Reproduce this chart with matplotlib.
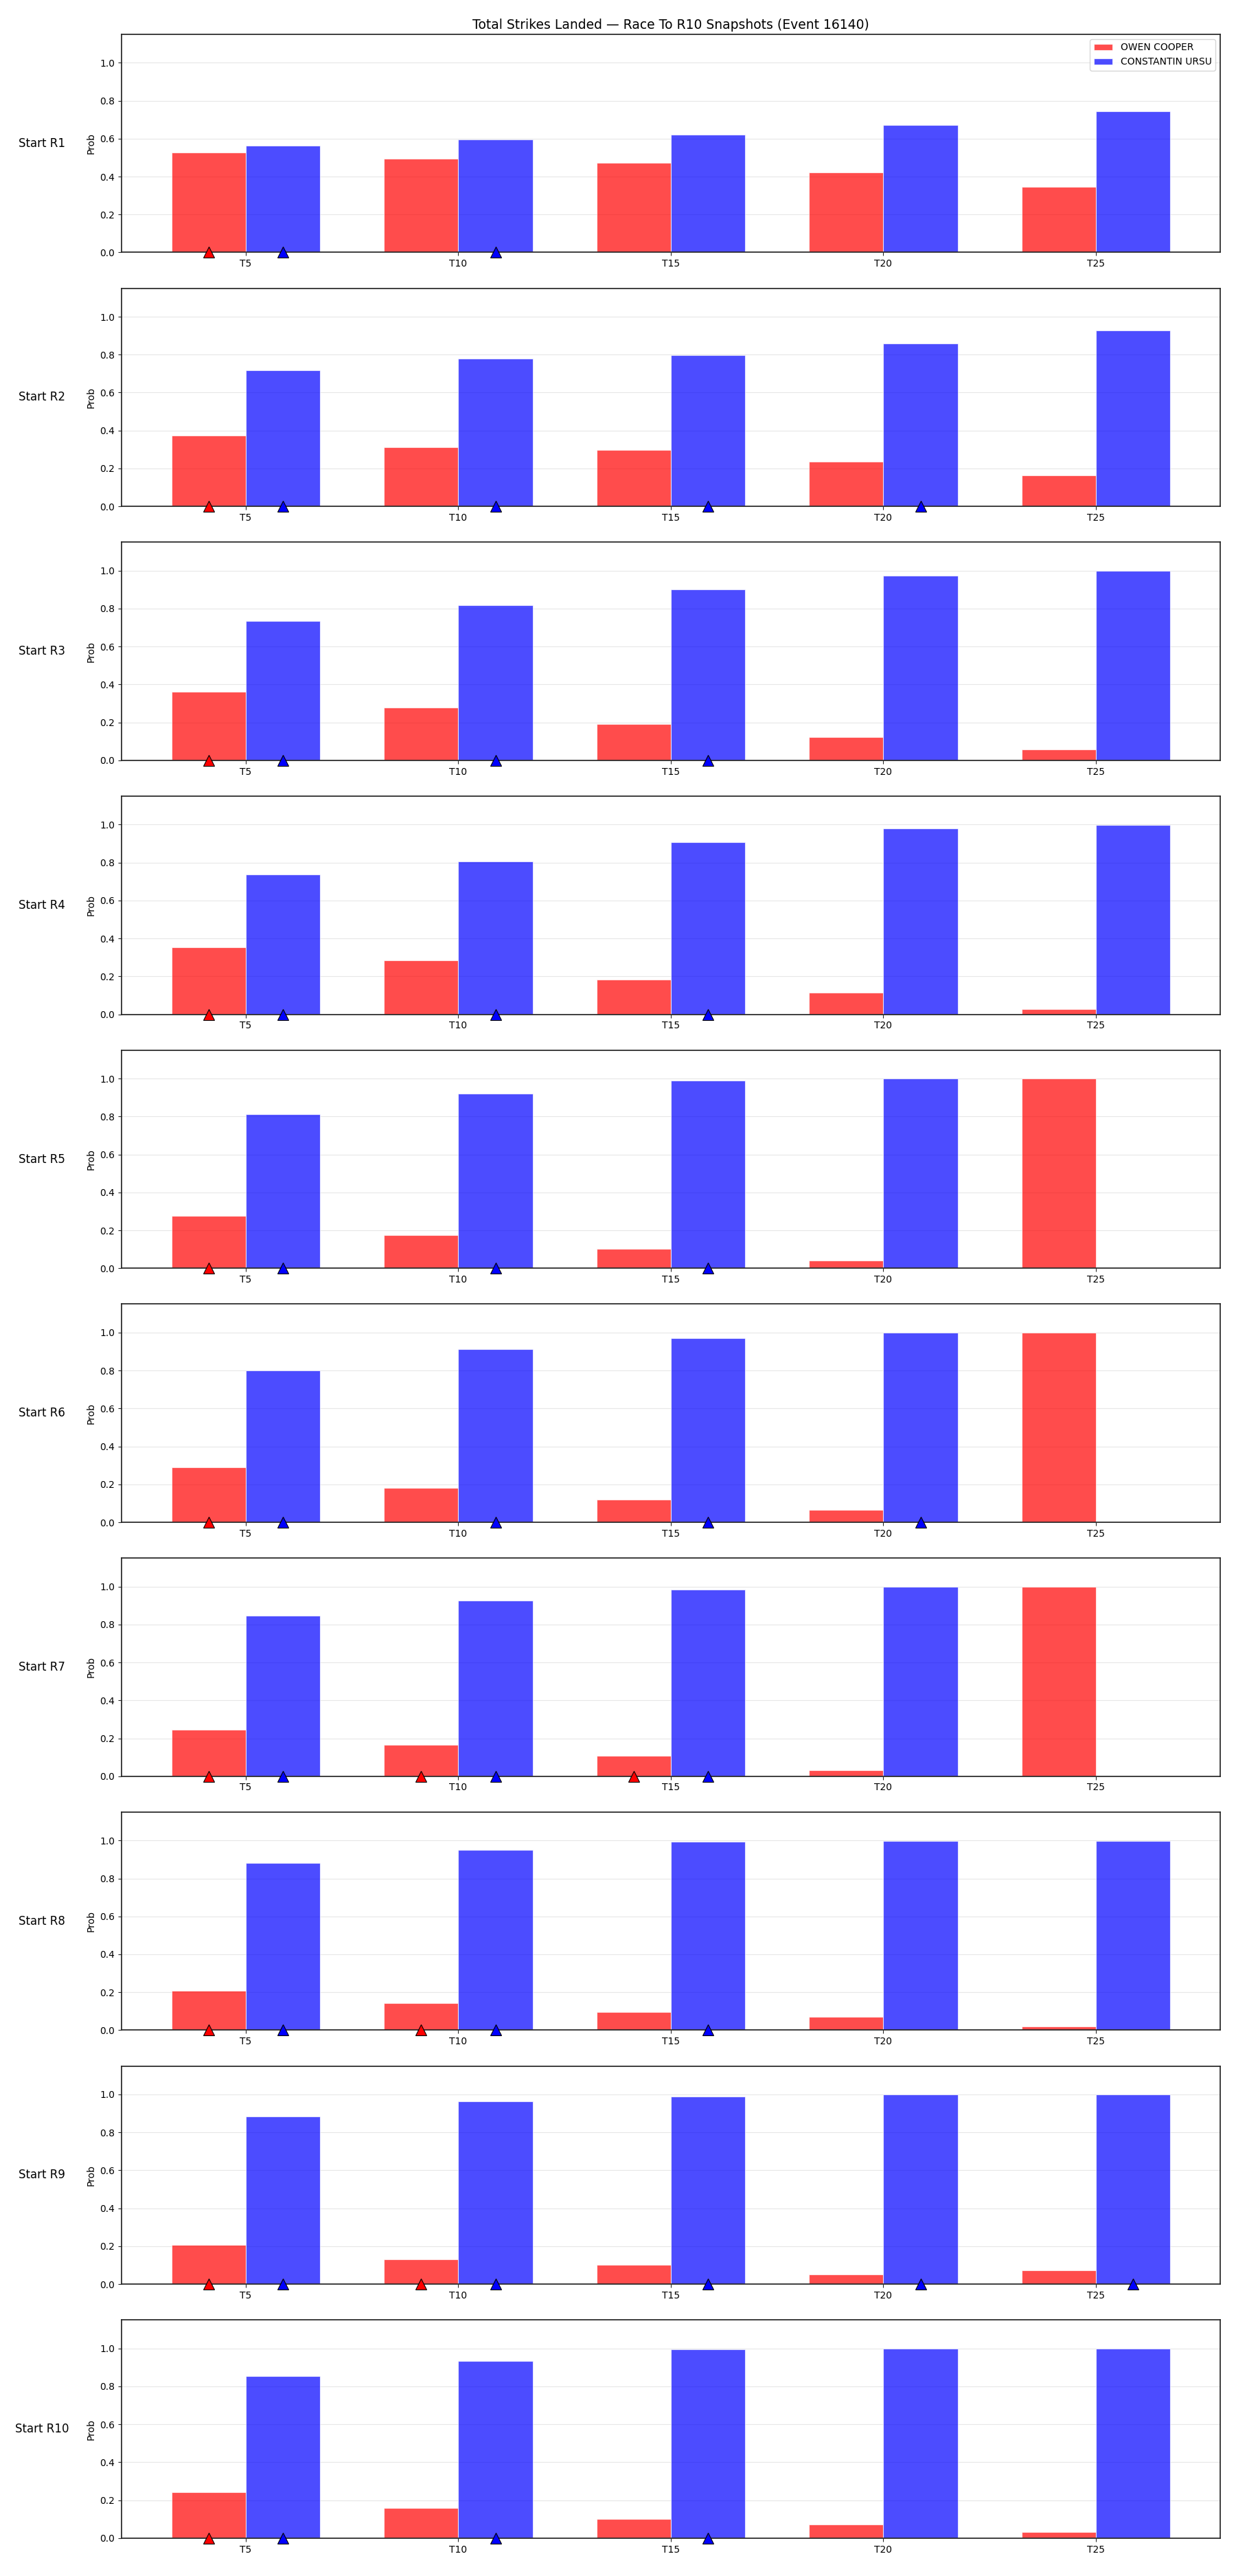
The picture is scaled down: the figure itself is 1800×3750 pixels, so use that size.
import numpy as np
import matplotlib.pyplot as plt

snapshots = ['T5', 'T10', 'T15', 'T20', 'T25']
starts = ['R1', 'R2', 'R3', 'R4', 'R5', 'R6', 'R7', 'R8', 'R9', 'R10']
name_a = 'OWEN COOPER'
name_b = 'CONSTANTIN URSU'

# probabilite par snapshot, une ligne par round de depart
cooper_prob = [
    [0.527, 0.496, 0.473, 0.420, 0.347],
    [0.375, 0.311, 0.296, 0.235, 0.163],
    [0.361, 0.278, 0.192, 0.123, 0.059],
    [0.355, 0.285, 0.183, 0.116, 0.028],
    [0.278, 0.174, 0.102, 0.040, 1.000],
    [0.291, 0.180, 0.119, 0.064, 1.000],
    [0.245, 0.166, 0.109, 0.033, 1.000],
    [0.209, 0.144, 0.097, 0.069, 0.021],
    [0.206, 0.131, 0.102, 0.052, 0.073],
    [0.242, 0.159, 0.100, 0.073, 0.033],
]
ursu_prob = [
    [0.563, 0.596, 0.622, 0.672, 0.744],
    [0.716, 0.780, 0.796, 0.860, 0.929],
    [0.734, 0.817, 0.900, 0.972, 0.999],
    [0.737, 0.806, 0.907, 0.979, 0.999],
    [0.813, 0.921, 0.990, 0.999, 0.000],
    [0.799, 0.912, 0.972, 0.999, 0.000],
    [0.845, 0.926, 0.983, 0.999, 0.000],
    [0.882, 0.951, 0.995, 0.999, 0.999],
    [0.884, 0.964, 0.990, 0.999, 0.999],
    [0.853, 0.932, 0.995, 0.999, 0.999],
]

# snapshots marques d'un triangle (index dans snapshots)
cooper_marks = [[0], [0], [0], [0], [0], [0], [0, 1, 2], [0, 1], [0, 1], [0]]
ursu_marks = [[0, 1], [0, 1, 2, 3], [0, 1, 2], [0, 1, 2], [0, 1, 2],
              [0, 1, 2, 3], [0, 1, 2], [0, 1, 2], [0, 1, 2, 3, 4], [0, 1, 2]]

width = 0.35
x = np.arange(len(snapshots))

fig, axes = plt.subplots(len(starts), 1, figsize=(18, 37.5), dpi=100)
fig.subplots_adjust(left=0.0983, right=0.9872, top=0.9867, bottom=0.0147, hspace=0.164)

for i, ax in enumerate(axes):
    ax.bar(x - width / 2, cooper_prob[i], width, color='red', alpha=0.7,
           edgecolor='white', linewidth=0.8, label=name_a)
    ax.bar(x + width / 2, ursu_prob[i], width, color='blue', alpha=0.7,
           edgecolor='white', linewidth=0.8, label=name_b)

    # triangles sur l'axe
    ma = np.array(cooper_marks[i])
    mb = np.array(ursu_marks[i])
    ax.plot(x[ma] - width / 2, np.zeros(len(ma)), linestyle='none', marker='^',
            markersize=11, color='red', markeredgecolor='black', markeredgewidth=0.8,
            clip_on=False, zorder=5)
    ax.plot(x[mb] + width / 2, np.zeros(len(mb)), linestyle='none', marker='^',
            markersize=11, color='blue', markeredgecolor='black', markeredgewidth=0.8,
            clip_on=False, zorder=5)

    ax.set_xticks(x)
    ax.set_xticklabels(snapshots)
    ax.set_ylim(0, 1.15)
    ax.set_yticks([0.0, 0.2, 0.4, 0.6, 0.8, 1.0])
    ax.set_ylabel('Prob')
    ax.grid(axis='y', color='#b0b0b0', alpha=0.3)
    ax.set_axisbelow(True)
    for sp in ax.spines.values():
        sp.set_color('#262626')
        sp.set_linewidth(1.25)
    ax.tick_params(color='#262626')
    ax.text(-0.0725, 0.5, f'Start {starts[i]}', transform=ax.transAxes,
            ha='center', va='center', fontsize=12)

axes[0].legend(loc='upper right')
axes[0].set_title('Total Strikes Landed \u2014 Race To R10 Snapshots (Event 16140)', fontsize=13.5)

plt.savefig('out.png')
